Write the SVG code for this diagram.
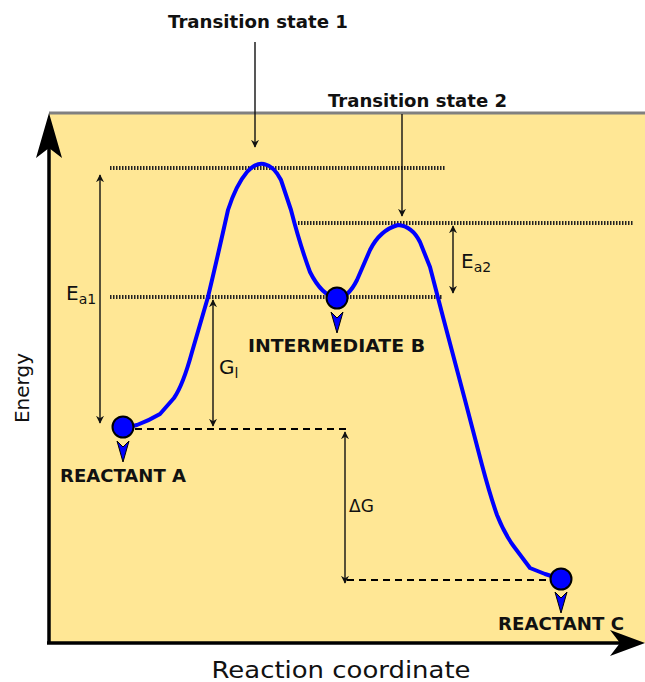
<svg xmlns="http://www.w3.org/2000/svg" width="645" height="682" viewBox="0 0 645 682">
<style>
.b{font-family:"DejaVu Sans",Verdana,sans-serif;font-weight:bold;font-size:17px;fill:#111}
.r{font-family:"DejaVu Sans",Verdana,sans-serif;fill:#111}
.dot{stroke:#222;stroke-width:4;stroke-dasharray:1.5 1.5;fill:none}
.dash{stroke:#000;stroke-width:2;stroke-dasharray:7 5;fill:none}
.dim{stroke:#111;stroke-width:1.4;fill:none}
.ball{fill:#0000ff;stroke:#000;stroke-width:2}
.ptr{fill:#0000ff;stroke:#000;stroke-width:1}
</style>
<defs>
<marker id="ah" viewBox="0 0 10 10" refX="9" refY="5" markerWidth="8" markerHeight="8" markerUnits="userSpaceOnUse" orient="auto-start-reverse">
<path d="M0,0 L10,5 L0,10 L3,5 Z" fill="#111"/>
</marker>
</defs>
<g id="background">
<rect x="49" y="113" width="600" height="530" fill="#ffe795"/>
<line x1="49" y1="113" x2="645" y2="113" stroke="#808080" stroke-width="3"/>
</g>
<g id="axes">
<line x1="49" y1="140" x2="49" y2="643" stroke="#000" stroke-width="3.5"/>
<line x1="47" y1="643" x2="625" y2="643" stroke="#000" stroke-width="3.5"/>
<path d="M49,113 L62,158 L49,148 L36,158 Z" fill="#000"/>
<path d="M645,643 L610,656 L620,643 L610,630 Z" fill="#000"/>
<text class="r" font-size="20" transform="translate(29,388) rotate(-90)" text-anchor="middle">Energy</text>
<text class="r" font-size="23" x="341" y="678" text-anchor="middle" textLength="259" lengthAdjust="spacingAndGlyphs">Reaction coordinate</text>
</g>
<g id="levels">
<line class="dot" x1="110" y1="168" x2="445" y2="168"/>
<line class="dot" x1="298" y1="223" x2="634" y2="223"/>
<line class="dot" x1="110" y1="297" x2="442" y2="297"/>
<line class="dash" x1="135" y1="429" x2="350" y2="429"/>
<line class="dash" x1="347" y1="580" x2="552" y2="580"/>
</g>
<g id="connectors">
<line class="dim" x1="100" y1="175" x2="100" y2="423" marker-start="url(#ah)" marker-end="url(#ah)"/>
<line class="dim" x1="213" y1="300" x2="213" y2="426" marker-start="url(#ah)" marker-end="url(#ah)"/>
<line class="dim" x1="453" y1="226" x2="453" y2="293" marker-start="url(#ah)" marker-end="url(#ah)"/>
<line class="dim" x1="345" y1="432" x2="345" y2="583" marker-start="url(#ah)" marker-end="url(#ah)"/>
<line class="dim" x1="255" y1="42" x2="255" y2="147" marker-end="url(#ah)"/>
<line class="dim" x1="402" y1="114" x2="402" y2="216" marker-end="url(#ah)"/>
</g>
<g id="curve">
<path d="M123,428 L137,425 Q150,420 160,414 L174,398 Q183,385 192,352 L208,297 Q218,255 228,210 Q236,185 247,172 Q256,162 264,164 Q274,166 281,180 L291,210 Q300,245 310,272 Q322,296 337,298 Q348,298 357,280 L370,250 Q380,230 398,225 Q412,226 420,242 L430,267 L443,317 L465,400 L482,465 Q490,495 497,515 Q505,535 515,548 L530,568 L545,574 L561,579" fill="none" stroke="#0000ff" stroke-width="4" stroke-linejoin="round" stroke-linecap="round"/>
</g>
<g id="reactant-a">
<circle class="ball" cx="123" cy="427" r="10.5"/>
<path class="ptr" d="M117,441 L123,447 L129,441 L123,462 Z"/>
<text class="b" x="60" y="482" textLength="126" lengthAdjust="spacingAndGlyphs">REACTANT A</text>
</g>
<g id="intermediate-b">
<circle class="ball" cx="337" cy="298" r="10.5"/>
<path class="ptr" d="M331,312 L337,318 L343,312 L337,333 Z"/>
<text class="b" x="248" y="352" textLength="177" lengthAdjust="spacingAndGlyphs">INTERMEDIATE B</text>
</g>
<g id="reactant-c">
<circle class="ball" cx="561" cy="579" r="10.5"/>
<path class="ptr" d="M555,592 L561,598 L567,592 L561,613 Z"/>
<text class="b" x="498" y="630" textLength="126" lengthAdjust="spacingAndGlyphs">REACTANT C</text>
</g>
<g id="ts1">
<text class="b" x="168" y="28" textLength="180" lengthAdjust="spacingAndGlyphs">Transition state 1</text>
</g>
<g id="ts2">
<text class="b" x="328" y="107" textLength="179" lengthAdjust="spacingAndGlyphs">Transition state 2</text>
</g>
<g id="labels">
<text class="r" font-size="20" x="66" y="300">E<tspan font-size="14" dy="4">a1</tspan></text>
<text class="r" font-size="20" x="219" y="374">G<tspan font-size="14" dy="4">l</tspan></text>
<text class="r" font-size="20" x="461" y="268">E<tspan font-size="14" dy="4">a2</tspan></text>
<text class="r" font-size="17" x="349" y="512">ΔG</text>
</g>
</svg>
